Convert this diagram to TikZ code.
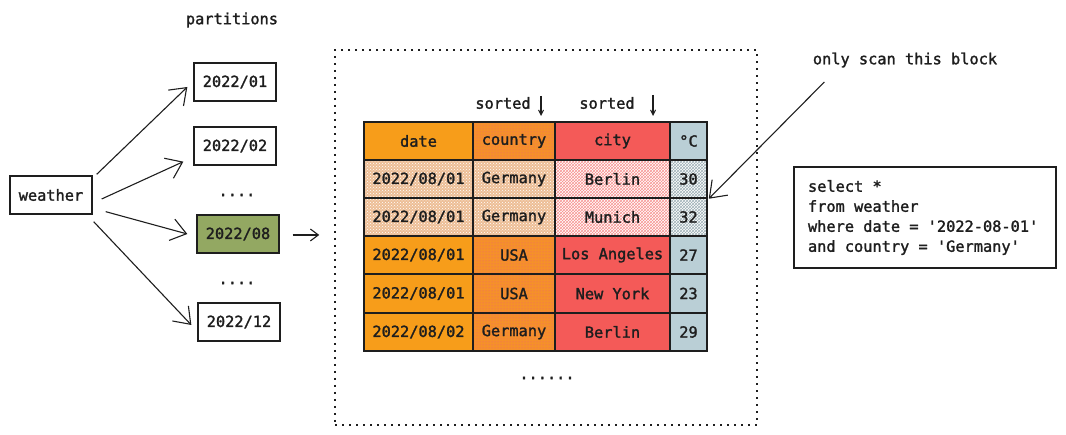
\documentclass[tikz,border=0pt]{standalone}
\usepackage{fontspec}
\setmonofont[WordSpace={1,0,0}, FakeBold=1.6]{DejaVu Sans Mono}
\usetikzlibrary{arrows.meta,patterns,calc}

\definecolor{ink}{HTML}{1E1E1E}
\definecolor{cgreen}{HTML}{93A862}
\definecolor{cdate}{HTML}{F79D1A}
\definecolor{ccountry}{HTML}{F5902A}
\definecolor{cpink}{HTML}{F0607A}
\definecolor{ccity}{HTML}{F45A58}
\definecolor{ctemp}{HTML}{BACFD6}
\definecolor{cpeach}{HTML}{EDBE96}

\tikzset{
  txt/.style={font=\ttfamily\fontsize{15.3}{18}\selectfont, text=ink},
  box/.style={txt, draw=ink, line width=1.3pt, minimum width=82pt, minimum height=38pt, inner sep=0pt},
  arr/.style={draw=ink, line width=1.1pt, -{Straight Barb[length=15pt, width=22pt, line width=1.1pt]}},
  sarr/.style={draw=ink, line width=1.1pt, -{Straight Barb[length=5pt, width=5pt, line width=1pt]}},
  cellbox/.style={txt, draw=ink, line width=1.5pt, inner sep=0pt, minimum height=38pt},
  hdate/.style={fill=cdate},
  hcountry/.style={preaction={fill=ccountry}, pattern=dots, pattern color=cpink},
  hcity/.style={fill=ccity},
  htemp/.style={fill=ctemp},
  ldate/.style={preaction={fill=cpeach}, pattern=crosshatch dots, pattern color=white},
  lcity/.style={preaction={fill=white}, pattern=crosshatch, pattern color=ccity!65},
  ltemp/.style={preaction={fill=white}, pattern=crosshatch, pattern color=ctemp!85!black},
}

% one table cell: name, x, y, width, style, text
\newcommand\tcell[6]{\node[cellbox, #5, minimum width=#4pt] (#1) at (#2,#3) {#6};}

\begin{document}
\begin{tikzpicture}[x=1pt, y=-1pt]
\useasboundingbox (0,0) rectangle (1066,435);

% partitions
\node[txt] (ptitle) at (232,20) {partitions};
\node[box] (weather) at (51,195) {weather};
\node[box] (p01) at (235,82) {2022/01};
\node[box] (p02) at (235,146) {2022/02};
\node[txt] (dots1) at (237,195) {....};
\node[box, fill=cgreen] (p08) at (238,234) {2022/08};
\node[txt] (dots2) at (237,283) {....};
\node[box] (p12) at (239,322) {2022/12};

\draw[arr] ([xshift=4pt, yshift=1pt]weather.north east) -- ([xshift=-6pt, yshift=-5pt]p01.west);
\draw[arr] ([xshift=9pt, yshift=-4pt]weather.east) -- ([xshift=-10pt, yshift=4pt]p02.south west);
\draw[arr] ([xshift=13pt, yshift=3pt]weather.south east) -- ([xshift=-9pt]p08.west);
\draw[arr] ([xshift=1pt, yshift=-7pt]weather.south east) -- ([xshift=-6pt, yshift=-3pt]p12.west);

% the data block
\node[draw=ink, line width=1.5pt, dash pattern=on 2pt off 5pt, minimum width=422pt, minimum height=375pt, inner sep=0pt] (block) at (546,237.5) {};
\draw[draw=ink, line width=1.1pt, -{Straight Barb[length=8pt, width=12pt, line width=1.1pt]}] ([xshift=13pt, yshift=-1pt]p08.east) -- ([xshift=-15pt, yshift=2.5pt]block.west);

% sort markers
\node[txt] (sort1) at (503,103) {sorted};
\node[txt] (sort2) at (607,103) {sorted};
\coordinate (s1a) at (541,96);
\coordinate (s1b) at (541,116);
\coordinate (s2a) at (653,95);
\coordinate (s2b) at (653,116);
\draw[sarr] (s1a) -- (s1b);
\draw[sarr] (s2a) -- (s2b);

% header row
\tcell{h1}{418.5}{141}{109}{hdate}{date}
\tcell{h2}{514}{141}{82}{hcountry}{country}
\tcell{h3}{612.5}{141}{115}{hcity}{city}
\tcell{h4}{688.5}{141}{37}{htemp}{°C}
% rows that are scanned
\tcell{a1}{418.5}{179}{109}{ldate}{2022/08/01}
\tcell{a2}{514}{179}{82}{ldate}{Germany}
\tcell{a3}{612.5}{179}{115}{lcity}{Berlin}
\tcell{a4}{688.5}{179}{37}{ltemp}{30}
\tcell{b1}{418.5}{217}{109}{ldate}{2022/08/01}
\tcell{b2}{514}{217}{82}{ldate}{Germany}
\tcell{b3}{612.5}{217}{115}{lcity}{Munich}
\tcell{b4}{688.5}{217}{37}{ltemp}{32}
% remaining rows
\tcell{c1}{418.5}{255}{109}{hdate}{2022/08/01}
\tcell{c2}{514}{255}{82}{hcountry}{USA}
\tcell{c3}{612.5}{255}{115}{hcity}{Los Angeles}
\tcell{c4}{688.5}{255}{37}{htemp}{27}
\tcell{d1}{418.5}{293.5}{109}{hdate}{2022/08/01}
\tcell{d2}{514}{293.5}{82}{hcountry}{USA}
\tcell{d3}{612.5}{293.5}{115}{hcity}{New York}
\tcell{d4}{688.5}{293.5}{37}{htemp}{23}
\tcell{e1}{418.5}{332}{109}{hdate}{2022/08/02}
\tcell{e2}{514}{332}{82}{hcountry}{Germany}
\tcell{e3}{612.5}{332}{115}{hcity}{Berlin}
\tcell{e4}{688.5}{332}{37}{htemp}{29}
\node[txt] (dots3) at (547,378) {......};

% annotation
\node[txt] (note) at (905,60) {only scan this block};
\draw[arr] ([xshift=15pt, yshift=-11pt]note.south west) -- ([xshift=1pt]a4.south east);

% query (monospace spaces kept at full width)
\node[txt, draw=ink, line width=1.3pt, minimum width=262pt, minimum height=101pt, inner xsep=14pt, align=left, text width=234pt, font=\ttfamily\fontsize{15.3}{20}\selectfont] (sql) at (925,217.5)
  {\spaceskip=0pt\xspaceskip=0pt select *\\from weather\\where date = '2022-08-01'\\and country = 'Germany'};
\end{tikzpicture}
\end{document}
